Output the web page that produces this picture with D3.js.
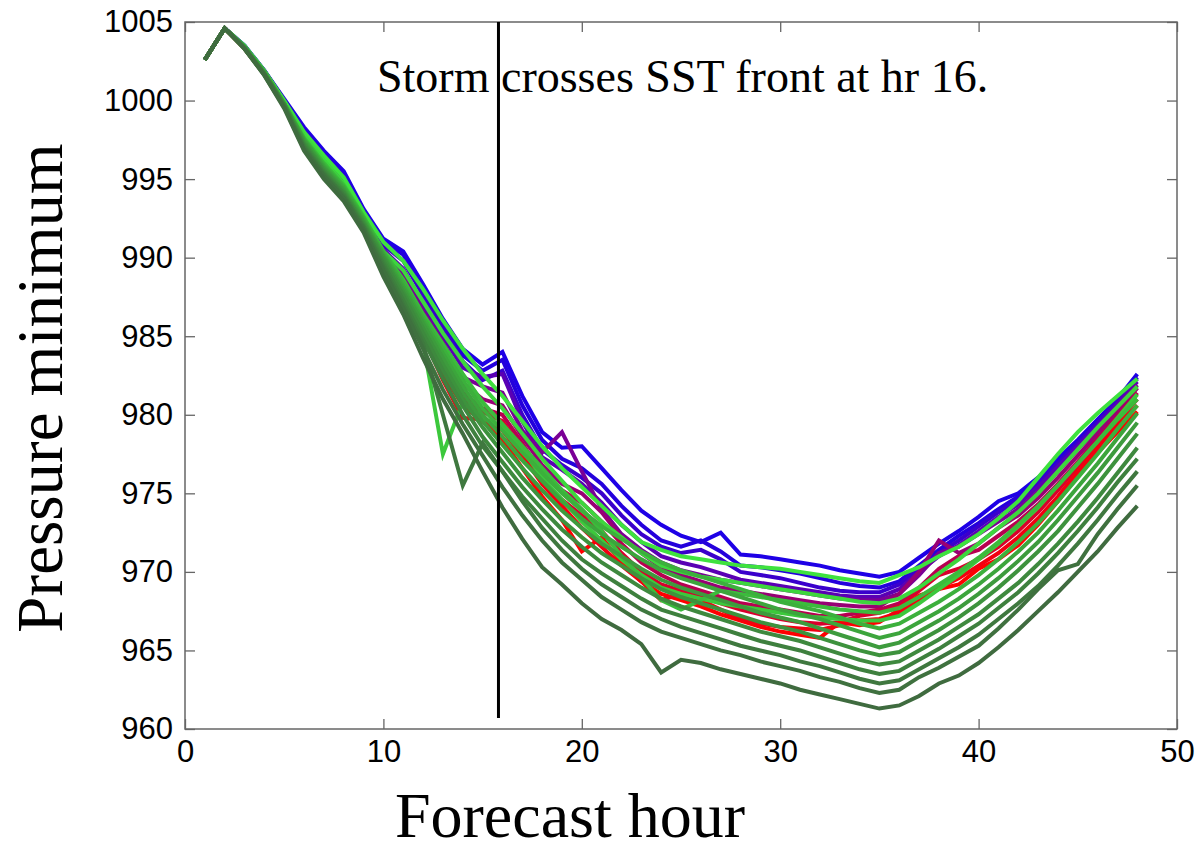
<!DOCTYPE html>
<html>
<head>
<meta charset="utf-8">
<script src="https://cdn.jsdelivr.net/npm/d3@7/dist/d3.min.js"></script>
<style>
    body { margin: 0; background: #fff; }
    .tick line { stroke: #666; stroke-width: 1.3; }
    .serif { font-family: "Liberation Serif", "Times New Roman", serif; fill: #000; }
</style>
</head>
<body>
<svg id="chart_1"></svg>
<script>
// forecast hours on the x axis
const hours = [1, 2, 3, 4, 5, 6, 7, 8, 9, 10, 11, 12,
    13, 14, 15, 16, 17, 18, 19, 20, 21, 22, 23, 24,
    25, 26, 27, 28, 29, 30, 31, 32, 33, 34, 35, 36,
    37, 38, 39, 40, 41, 42, 43, 44, 45, 46, 47, 48];

const xTicks = [0, 10, 20, 30, 40, 50];
const yTicks = [960, 965, 970, 975, 980, 985, 990, 995, 1000, 1005];

const frontHour = 15.8;
const frontLabel = "Storm crosses SST front at hr 16.";

// ensemble members, pressure minimum per hour
const blue1 = [1002.6, 1004.6, 1003.5, 1001.9, 1000.1, 998.3, 996.8, 995.5, 993.1, 991.2, 990.4, 988.3,
    986.1, 984.2, 983.2, 984.0, 981.2, 978.9, 977.9, 978.0, 976.6, 975.2, 973.9, 973.0,
    972.3, 971.9, 972.5, 971.1, 971.0, 970.8, 970.6, 970.4, 970.1, 969.9, 969.7, 970.0,
    970.9, 971.8, 972.6, 973.5, 974.5, 975.0, 976.0, 977.2, 978.4, 979.7, 981.0, 982.6];
const blue2 = [1002.6, 1004.6, 1003.5, 1001.9, 1000.0, 998.2, 996.6, 995.3, 993.0, 991.0, 990.2, 988.0,
    986.0, 983.8, 982.8, 983.5, 980.6, 978.4, 977.2, 976.6, 975.6, 974.2, 973.0, 972.0,
    971.6, 972.0, 971.3, 970.4, 970.3, 970.1, 969.9, 969.6, 969.3, 969.1, 969.0, 969.4,
    970.4, 971.4, 972.3, 973.1, 974.0, 974.8, 975.8, 977.0, 978.3, 979.6, 981.0, 982.4];
const blue3 = [1002.6, 1004.6, 1003.4, 1001.9, 1000.0, 998.0, 996.5, 995.1, 992.8, 990.8, 989.8, 987.6,
    985.6, 983.4, 982.2, 982.8, 980.0, 977.8, 976.8, 976.0, 975.0, 973.6, 972.4, 971.6,
    971.2, 971.4, 970.8, 970.0, 969.8, 969.6, 969.3, 969.0, 968.8, 968.7, 968.7, 969.2,
    970.2, 971.2, 972.0, 972.9, 973.8, 974.6, 975.6, 976.9, 978.2, 979.5, 980.9, 982.3];
const violet1 = [1002.6, 1004.6, 1003.4, 1001.8, 999.9, 997.9, 996.3, 994.9, 992.6, 990.5, 989.3, 987.0,
    985.0, 983.0, 982.4, 982.6, 979.6, 977.3, 976.5, 975.6, 974.4, 973.0, 971.9, 971.0,
    970.6, 970.3, 969.9, 969.5, 969.3, 969.1, 968.9, 968.7, 968.5, 968.4, 968.4, 968.9,
    970.0, 971.0, 971.7, 972.6, 973.5, 974.3, 975.4, 976.7, 978.0, 979.3, 980.7, 982.1];
const purple1 = [1002.6, 1004.6, 1003.4, 1001.8, 999.9, 997.8, 996.2, 994.8, 992.5, 990.3, 988.9, 986.6,
    984.6, 982.4, 981.8, 981.4, 979.0, 977.6, 978.9, 976.4, 974.0, 972.4, 971.4, 970.6,
    970.1, 969.8, 969.5, 969.3, 969.1, 968.9, 968.7, 968.5, 968.3, 968.2, 968.2, 968.6,
    969.8, 971.2, 971.6, 972.4, 973.2, 974.0, 975.1, 976.4, 977.8, 979.1, 980.5, 981.9];
const purple2 = [1002.6, 1004.6, 1003.4, 1001.8, 999.8, 997.7, 996.1, 994.6, 992.4, 990.2, 988.6, 986.2,
    984.2, 982.0, 981.0, 980.6, 978.6, 976.8, 975.6, 975.0, 973.8, 972.2, 971.2, 970.3,
    969.8, 969.4, 969.0, 968.8, 968.6, 968.4, 968.2, 968.0, 967.9, 967.8, 967.8, 968.6,
    970.0, 972.0, 971.2, 971.8, 972.8, 973.6, 974.7, 976.0, 977.4, 978.8, 980.2, 981.7];
const magenta1 = [1002.6, 1004.6, 1003.4, 1001.8, 999.8, 997.6, 996.0, 994.4, 992.3, 990.0, 988.2, 985.8,
    983.6, 981.4, 980.4, 980.0, 978.2, 976.2, 975.2, 974.4, 973.2, 971.8, 970.6, 969.8,
    969.2, 968.8, 968.4, 968.0, 967.8, 967.6, 967.4, 967.2, 967.2, 967.4, 967.6, 968.0,
    969.0, 970.2, 971.0, 971.4, 972.3, 973.2, 974.3, 975.6, 977.0, 978.5, 979.9, 981.4];
const crimson1 = [1002.6, 1004.6, 1003.4, 1001.8, 999.8, 997.6, 995.9, 994.3, 992.3, 990.0, 987.9, 985.4,
    983.2, 981.0, 980.2, 979.6, 977.8, 975.8, 974.6, 973.6, 972.6, 971.2, 970.0, 969.2,
    968.8, 968.5, 968.0, 967.6, 967.3, 967.0, 966.8, 966.7, 966.8, 967.2, 967.4, 967.8,
    968.8, 969.8, 970.2, 970.8, 971.6, 972.6, 973.8, 975.2, 976.7, 978.2, 979.6, 981.0];
const red1 = [1002.6, 1004.6, 1003.3, 1001.7, 999.7, 997.4, 995.7, 994.0, 992.0, 989.6, 987.4, 985.0,
    982.6, 980.6, 979.6, 978.4, 976.6, 974.8, 973.3, 971.3, 972.2, 970.6, 969.4, 968.6,
    968.2, 967.8, 967.3, 966.9, 966.5, 966.2, 966.0, 965.8, 966.8, 966.6, 966.8, 967.6,
    968.5, 968.9, 969.2, 970.2, 970.8, 971.7, 973.0, 974.5, 976.1, 977.6, 978.9, 980.2];
const red2 = [1002.6, 1004.6, 1003.4, 1001.7, 999.7, 997.5, 995.8, 994.2, 992.2, 989.8, 987.6, 985.0,
    982.2, 979.8, 979.7, 979.0, 977.4, 975.6, 974.2, 972.8, 971.6, 970.4, 969.4, 968.2,
    968.6, 968.2, 967.6, 967.0, 966.7, 966.5, 966.4, 966.3, 966.6, 966.9, 967.0, 967.4,
    968.2, 969.0, 969.6, 970.4, 971.2, 972.2, 973.4, 974.8, 976.4, 977.9, 979.4, 980.6];

const green1 = [1002.6, 1004.6, 1003.5, 1001.9, 1000.0, 998.0, 996.5, 995.1, 992.9, 991.0, 989.8, 988.0,
    986.0, 984.2, 982.6, 981.2, 979.6, 978.0, 976.6, 975.4, 974.2, 973.0, 971.9, 971.4,
    971.0, 970.8, 970.6, 970.4, 970.3, 970.2, 970.0, 969.8, 969.6, 969.4, 969.3, 969.8,
    970.3, 971.0, 971.6, 972.4, 973.4, 974.5, 976.0, 977.5, 978.9, 980.1, 981.2, 982.3];
const green2 = [1002.6, 1004.6, 1003.4, 1001.8, 999.9, 997.8, 996.2, 994.7, 992.6, 990.4, 989.2, 987.2,
    985.2, 983.4, 981.8, 980.4, 978.8, 977.2, 975.8, 974.4, 973.2, 972.2, 971.2, 970.4,
    970.0, 969.7, 969.5, 969.3, 969.1, 968.9, 968.7, 968.5, 968.3, 968.1, 968.0, 968.3,
    969.0, 969.9, 970.8, 971.8, 972.8, 973.8, 975.0, 976.4, 977.8, 979.2, 980.5, 981.8];
const green3 = [1002.6, 1004.6, 1003.4, 1001.8, 999.8, 997.6, 996.0, 994.5, 992.4, 990.0, 987.4, 984.6,
    977.5, 980.8, 979.8, 979.2, 977.8, 976.0, 974.6, 973.2, 972.0, 970.8, 969.8, 969.0,
    968.6, 968.3, 968.0, 967.8, 967.6, 967.4, 967.2, 967.1, 967.0, 966.9, 966.9, 967.2,
    968.0, 968.9, 969.8, 970.8, 971.8, 972.9, 974.1, 975.5, 976.9, 978.3, 979.8, 981.3];
const green4 = [1002.6, 1004.6, 1003.4, 1001.8, 999.8, 997.6, 996.0, 994.6, 992.6, 990.4, 988.6, 986.4,
    984.5, 982.6, 980.8, 979.4, 978.0, 976.6, 975.2, 974.0, 972.6, 971.0, 969.6, 968.2,
    967.6, 968.2, 968.8, 968.6, 968.4, 968.2, 968.0, 967.8, 967.6, 967.5, 967.4, 967.7,
    968.4, 969.2, 970.0, 970.9, 971.9, 973.0, 974.2, 975.5, 976.9, 978.3, 979.7, 981.0];
const green5 = [1002.6, 1004.6, 1003.4, 1001.8, 999.8, 997.5, 995.9, 994.5, 992.5, 990.3, 988.4, 986.2,
    984.2, 982.2, 980.4, 979.0, 977.6, 976.3, 975.0, 973.9, 972.9, 972.1, 971.3, 970.6,
    970.1, 969.7, 969.3, 968.9, 968.5, 968.1, 967.8, 967.5, 967.1, 966.7, 966.4, 966.7,
    967.4, 968.1, 968.9, 969.8, 970.8, 971.9, 973.1, 974.5, 976.0, 977.5, 979.1, 980.6];
const green6 = [1002.6, 1004.6, 1003.4, 1001.8, 999.8, 997.5, 995.8, 994.4, 992.4, 990.2, 988.2, 986.0,
    983.9, 981.8, 980.0, 978.6, 977.1, 975.8, 974.5, 973.4, 972.4, 971.6, 970.8, 970.1,
    969.6, 969.2, 968.8, 968.4, 968.0, 967.6, 967.3, 967.0, 966.6, 966.2, 965.8, 966.1,
    966.8, 967.5, 968.3, 969.2, 970.2, 971.3, 972.5, 973.9, 975.4, 976.9, 978.5, 980.1];
const green7 = [1002.6, 1004.6, 1003.4, 1001.8, 999.8, 997.4, 995.7, 994.3, 992.3, 990.1, 988.0, 985.8,
    983.6, 981.4, 979.6, 978.1, 976.6, 975.2, 973.9, 972.8, 971.8, 971.0, 970.2, 969.5,
    969.0, 968.6, 968.2, 967.8, 967.4, 967.1, 966.8, 966.4, 966.0, 965.6, 965.2, 965.5,
    966.2, 966.9, 967.7, 968.6, 969.6, 970.7, 971.9, 973.3, 974.8, 976.3, 977.9, 979.5];
const green8 = [1002.6, 1004.6, 1003.4, 1001.7, 999.7, 997.3, 995.6, 994.2, 992.2, 990.0, 987.8, 985.5,
    983.2, 981.0, 979.2, 977.6, 976.0, 974.6, 973.3, 972.2, 971.2, 970.4, 969.6, 968.9,
    968.4, 968.0, 967.6, 967.2, 966.8, 966.5, 966.2, 965.8, 965.4, 965.0, 964.7, 964.9,
    965.6, 966.3, 967.1, 968.0, 969.0, 970.1, 971.3, 972.6, 974.1, 975.6, 977.2, 978.8];
const green9 = [1002.6, 1004.6, 1003.4, 1001.7, 999.7, 997.2, 995.5, 994.1, 992.1, 989.8, 987.6, 985.2,
    982.8, 980.6, 978.6, 977.0, 975.4, 974.0, 972.7, 971.6, 970.6, 969.8, 969.0, 968.3,
    967.8, 967.4, 967.0, 966.6, 966.2, 965.9, 965.6, 965.2, 964.8, 964.4, 964.1, 964.3,
    965.0, 965.7, 966.5, 967.3, 968.3, 969.3, 970.5, 971.8, 973.2, 974.7, 976.3, 977.9];
const green10 = [1002.6, 1004.6, 1003.3, 1001.7, 999.7, 997.1, 995.4, 994.0, 992.0, 989.6, 987.3, 984.8,
    982.3, 980.0, 978.0, 976.4, 974.8, 973.4, 972.0, 970.8, 969.9, 969.1, 968.3, 967.6,
    967.2, 966.8, 966.4, 966.0, 965.6, 965.3, 965.0, 964.6, 964.2, 963.8, 963.5, 963.7,
    964.4, 965.1, 965.9, 966.7, 967.7, 968.7, 969.9, 971.2, 972.6, 974.1, 975.7, 977.2];
const green11 = [1002.6, 1004.6, 1003.3, 1001.7, 999.6, 997.0, 995.3, 993.9, 991.9, 989.4, 987.0, 984.5,
    980.0, 975.5, 978.2, 976.4, 974.5, 972.8, 971.4, 970.2, 969.2, 968.4, 967.6, 967.0,
    966.5, 966.1, 965.7, 965.3, 965.0, 964.7, 964.3, 964.0, 963.6, 963.2, 962.9, 963.1,
    963.8, 964.5, 965.2, 966.0, 967.0, 968.0, 969.1, 970.4, 971.8, 973.3, 974.9, 976.4];
const green12 = [1002.6, 1004.6, 1003.3, 1001.6, 999.6, 996.9, 995.2, 993.8, 991.8, 989.2, 986.8, 984.2,
    981.6, 979.4, 977.4, 975.4, 973.6, 972.0, 970.6, 969.5, 968.4, 967.6, 966.8, 966.2,
    965.8, 965.4, 965.0, 964.7, 964.3, 964.0, 963.7, 963.3, 963.0, 962.6, 962.3, 962.5,
    963.3, 963.9, 964.6, 965.3, 966.4, 967.6, 968.9, 970.1, 970.5, 972.4, 974.0, 975.5];
const green13 = [1002.6, 1004.6, 1003.3, 1001.6, 999.5, 996.8, 995.0, 993.6, 991.6, 988.8, 986.4, 983.6,
    981.0, 978.8, 976.4, 974.1, 972.1, 970.3, 969.2, 968.0, 967.0, 966.3, 965.4, 963.6,
    964.4, 964.2, 963.8, 963.5, 963.2, 962.9, 962.5, 962.2, 961.9, 961.6, 961.3, 961.5,
    962.1, 962.9, 963.4, 964.2, 965.2, 966.3, 967.5, 968.7, 970.0, 971.3, 972.8, 974.2];

// drawing order: blue -> red first, greens on top
const members = [
    {name: "blue1", values: blue1}, {name: "blue2", values: blue2}, {name: "blue3", values: blue3},
    {name: "violet1", values: violet1}, {name: "purple1", values: purple1}, {name: "purple2", values: purple2},
    {name: "magenta1", values: magenta1}, {name: "crimson1", values: crimson1},
    {name: "red1", values: red1}, {name: "red2", values: red2},
    {name: "green1", values: green1}, {name: "green2", values: green2}, {name: "green3", values: green3},
    {name: "green4", values: green4}, {name: "green5", values: green5}, {name: "green6", values: green6},
    {name: "green7", values: green7}, {name: "green8", values: green8}, {name: "green9", values: green9},
    {name: "green10", values: green10}, {name: "green11", values: green11}, {name: "green12", values: green12},
    {name: "green13", values: green13}
];

const memberColor = {
    blue1: "#1e00e6", blue2: "#2400dc", blue3: "#3a00cc", violet1: "#5a00b4",
    purple1: "#7a0096", purple2: "#980074", magenta1: "#b80050", crimson1: "#d8002c",
    red1: "#ff0000", red2: "#f20010",
    green1: "#3ee23e", green2: "#3dd63d", green3: "#3cc83c", green4: "#3cbb3c",
    green5: "#3cb03c", green6: "#3ca53c", green7: "#3d9b3d", green8: "#3d923d",
    green9: "#3e893e", green10: "#3e803e", green11: "#3f783f", green12: "#3f713f",
    green13: "#3f6b3f"
};

const margin = {top: 22, right: 22, bottom: 121, left: 185},
    width = 1199 - margin.left - margin.right,
    height = 850 - margin.top - margin.bottom;

const svg_1 = d3.select("#chart_1")
    .attr("width", width + margin.left + margin.right)
    .attr("height", height + margin.top + margin.bottom)
    .append("g")
    .attr("transform", "translate(" + margin.left + "," + margin.top + ")");

const xScale = d3.scaleLinear().domain([0, 50]).range([0, width]);
const yScale = d3.scaleLinear().domain([960, 1005]).range([height, 0]);

// ticks point inward on all four sides, like matlab
svg_1.append("g")
    .attr("class", "x-axis")
    .attr("transform", "translate(0," + height + ")")
    .call(d3.axisBottom(xScale).tickValues(xTicks).tickSizeInner(-10).tickSizeOuter(0)
        .tickPadding(11).tickFormat(d3.format("d")));

svg_1.append("g")
    .attr("class", "x-axis-top")
    .call(d3.axisTop(xScale).tickValues(xTicks).tickSizeInner(-10).tickSizeOuter(0).tickFormat(""));

svg_1.append("g")
    .attr("class", "y-axis")
    .call(d3.axisLeft(yScale).tickValues(yTicks).tickSizeInner(-10).tickSizeOuter(0)
        .tickPadding(12).tickFormat(d3.format("d")));

svg_1.append("g")
    .attr("class", "y-axis-right")
    .attr("transform", "translate(" + width + ",0)")
    .call(d3.axisRight(yScale).tickValues(yTicks).tickSizeInner(-10).tickSizeOuter(0).tickFormat(""));

svg_1.selectAll(".domain").remove();

svg_1.selectAll(".x-axis text, .y-axis text")
    .attr("fill", "#000")
    .style("font-family", "'Liberation Sans', Arial, sans-serif")
    .style("font-size", "31px");

// plot box
svg_1.append("rect")
    .attr("x", 0)
    .attr("y", 0)
    .attr("width", width)
    .attr("height", height)
    .attr("fill", "none")
    .attr("stroke", "#666")
    .attr("stroke-width", 1.5);

const line = d3.line()
    .x(function(d, i) { return xScale(hours[i]); })
    .y(function(d) { return yScale(d); });

svg_1.selectAll("path.member")
    .data(members)
    .enter()
    .append("path")
    .attr("class", "member")
    .attr("d", function(d) { return line(d.values); })
    .attr("fill", "none")
    .attr("stroke", function(d) { return memberColor[d.name]; })
    .attr("stroke-width", 4)
    .attr("stroke-linejoin", "miter");

// SST front marker
svg_1.append("line")
    .attr("x1", xScale(frontHour))
    .attr("x2", xScale(frontHour))
    .attr("y1", 0)
    .attr("y2", yScale(960.7))
    .attr("stroke", "#000")
    .attr("stroke-width", 3);

svg_1.append("text")
    .attr("class", "serif")
    .attr("x", 377 - margin.left)
    .attr("y", 92 - margin.top)
    .style("font-size", "46px")
    .text(frontLabel);

// axis titles
const root = d3.select("#chart_1");

root.append("text")
    .attr("class", "serif")
    .attr("text-anchor", "middle")
    .attr("transform", "translate(62,388) rotate(-90)")
    .style("font-size", "65px")
    .text("Pressure minimum");

root.append("text")
    .attr("class", "serif")
    .attr("text-anchor", "middle")
    .attr("x", 570)
    .attr("y", 837)
    .style("font-size", "64px")
    .text("Forecast hour");
</script>
</body>
</html>
